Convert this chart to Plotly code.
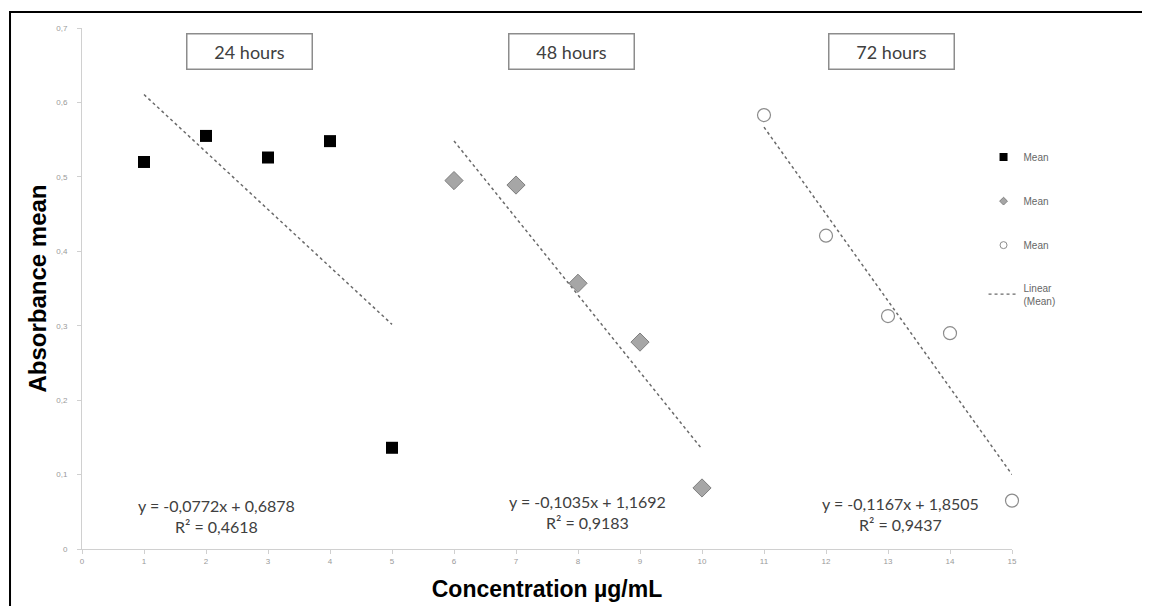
import plotly.graph_objects as go

# ---- data ----
x_24 = [1, 2, 3, 4, 5]
y_24 = [0.520, 0.555, 0.526, 0.548, 0.136]
x_48 = [6, 7, 8, 9, 10]
y_48 = [0.495, 0.489, 0.357, 0.278, 0.082]
x_72 = [11, 12, 13, 14, 15]
y_72 = [0.583, 0.421, 0.313, 0.290, 0.065]

slopes = [-0.0772, -0.1035, -0.1167]
intercepts = [0.6878, 1.1692, 1.8505]
trend_x = [[1, 5], [6, 10], [11, 15]]
equations = ["y = -0,0772x + 0,6878<br>R² = 0,4618",
             "y = -0,1035x + 1,1692<br>R² = 0,9183",
             "y = -0,1167x + 1,8505<br>R² = 0,9437"]
eq_pos = [(2.17, 0.045), (8.15, 0.050), (13.2, 0.047)]
panel_titles = ["24 hours", "48 hours", "72 hours"]
title_x = [2.7, 7.9, 13.05]

y_ticks = [0, 0.1, 0.2, 0.3, 0.4, 0.5, 0.6, 0.7]
y_ticktext = ["0", "0,1", "0,2", "0,3", "0,4", "0,5", "0,6", "0,7"]
x_ticks = list(range(0, 16))

fig = go.Figure()

# trend lines
for i, (xs, m, b) in enumerate(zip(trend_x, slopes, intercepts)):
    fig.add_trace(go.Scatter(
        x=xs, y=[m * v + b for v in xs], mode="lines",
        line=dict(color="#6a6a6a", width=1.5, dash="dot"),
        showlegend=False, hoverinfo="skip"))

# data markers
fig.add_trace(go.Scatter(x=x_24, y=y_24, mode="markers", cliponaxis=False,
                         marker=dict(symbol="square", size=12, color="#000000"),
                         showlegend=False))
fig.add_trace(go.Scatter(x=x_48, y=y_48, mode="markers", cliponaxis=False,
                         marker=dict(symbol="diamond", size=14, color="#a6a6a6",
                                     line=dict(color="#7f7f7f", width=1)),
                         showlegend=False))
fig.add_trace(go.Scatter(x=x_72, y=y_72, mode="markers", cliponaxis=False,
                         marker=dict(symbol="circle", size=13, color="#ffffff",
                                     line=dict(color="#8c8c8c", width=1.2)),
                         showlegend=False))

# legend-only entries
fig.add_trace(go.Scatter(x=[None], y=[None], mode="markers", name="Mean", legendgroup="a",
                         marker=dict(symbol="square", size=8, color="#000000")))
fig.add_trace(go.Scatter(x=[None], y=[None], mode="markers", name="Mean", legendgroup="b",
                         marker=dict(symbol="diamond", size=6, color="#a6a6a6",
                                     line=dict(color="#7f7f7f", width=1))))
fig.add_trace(go.Scatter(x=[None], y=[None], mode="markers", name="Mean", legendgroup="c",
                         marker=dict(symbol="circle", size=7, color="#ffffff",
                                     line=dict(color="#8c8c8c", width=1))))
fig.add_trace(go.Scatter(x=[None], y=[None], mode="lines", name="Linear<br>(Mean)", legendgroup="d",
                         line=dict(color="#6a6a6a", width=1.2, dash="dot")))

annotations = []
for txt, (ex, ey) in zip(equations, eq_pos):
    annotations.append(dict(x=ex, y=ey, xref="x", yref="y", text=txt, showarrow=False,
                            font=dict(family="Lato", size=16, color="#404040"),
                            align="center", xanchor="center", yanchor="middle"))
for txt, tx in zip(panel_titles, title_x):
    annotations.append(dict(x=tx, y=0.669, xref="x", yref="y", text=txt, showarrow=False,
                            font=dict(family="Lato", size=18, color="#404040"),
                            xanchor="center", yanchor="middle",
                            bordercolor="#8c8c8c", borderwidth=1.5, borderpad=6,
                            width=112, bgcolor="#ffffff"))

shapes = [dict(type="rect", xref="paper", yref="paper",
               x0=-0.0774, x1=1.2, y0=-0.3, y1=1.0307,
               line=dict(color="#000000", width=2), fillcolor="rgba(0,0,0,0)")]

fig.update_layout(
    width=1150, height=606,
    margin=dict(l=74, r=146, t=20, b=65, autoexpand=False),
    paper_bgcolor="#ffffff", plot_bgcolor="#ffffff",
    showlegend=True,
    legend=dict(x=0.9694, y=0.78, xanchor="left", yanchor="top",
                font=dict(family="Liberation Sans", size=10, color="#666666"),
                tracegroupgap=25, bgcolor="rgba(0,0,0,0)", itemwidth=30),
    xaxis=dict(range=[0, 15], tickvals=x_ticks, ticktext=[str(v) for v in x_ticks],
               showgrid=False, zeroline=False, showline=True, linecolor="#d0d0d0", linewidth=1,
               ticks="outside", ticklen=4, tickcolor="#d0d0d0",
               tickfont=dict(family="Liberation Sans", size=8, color="#9a9a9a"),
               title=dict(text="<b>Concentration µg/mL</b>", standoff=16,
                          font=dict(family="Liberation Sans", size=23, color="#000000"))),
    yaxis=dict(range=[0, 0.7], tickvals=y_ticks, ticktext=y_ticktext,
               showgrid=False, zeroline=False, showline=True, linecolor="#d0d0d0", linewidth=1,
               ticks="outside", ticklen=4, tickcolor="#d0d0d0", ticklabelstandoff=8,
               tickfont=dict(family="Liberation Sans", size=8, color="#9a9a9a"),
               title=dict(text="<b>Absorbance mean</b>", standoff=2,
                          font=dict(family="Liberation Sans", size=24, color="#000000"))),
    annotations=annotations,
    shapes=shapes,
)

fig.write_html("out.html")
